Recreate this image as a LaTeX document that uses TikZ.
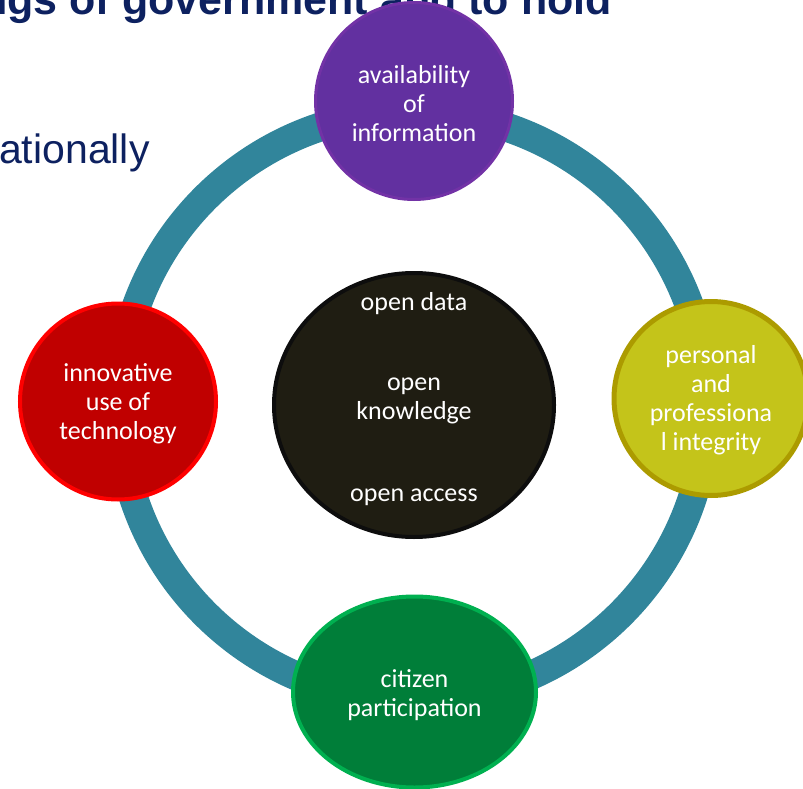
\documentclass[tikz,border=0pt]{standalone}
\usepackage{fontspec}
\setmainfont{Carlito}
\newfontfamily\arialfont{Liberation Sans}
\usetikzlibrary{shapes.geometric}
\definecolor{ringteal}{HTML}{31859B}
\definecolor{navy}{HTML}{0D2160}
\definecolor{purfill}{HTML}{6230A0}
\definecolor{purline}{HTML}{7232A6}
\definecolor{redfill}{HTML}{C00000}
\definecolor{redline}{HTML}{FF0000}
\definecolor{olvfill}{HTML}{C4C41A}
\definecolor{olvline}{HTML}{AC9B00}
\definecolor{grnfill}{HTML}{007E39}
\definecolor{grnline}{HTML}{00B050}
\definecolor{hubfill}{HTML}{1F1D12}
\definecolor{hubline}{HTML}{0D0D0D}
\begin{document}
\begin{tikzpicture}[x=1pt,y=-1pt,
  bubble/.style={circle, inner sep=0pt},
  oval/.style={ellipse, inner sep=0pt},
  bubtext/.style={inner sep=0pt, text=white, align=center,
    font=\fontsize{26}{29}\selectfont},
  ringband/.style={draw=ringteal, line width=29pt},
  bgtext/.style={inner sep=0pt, anchor=base west, text=navy}]
\useasboundingbox (0,0) rectangle (803,789);
\clip (0,0) rectangle (803,789);
% background slide text
\node[bgtext, font=\arialfont\bfseries\fontsize{43}{43}\selectfont] (title) at (-19,15) {ngs of government and to hold};
\node[bgtext, font=\arialfont\fontsize{41}{41}\selectfont] (body) at (-1,164) {ationally};
% ring
\coordinate (ringc) at (413,406);
\draw[ringband] (ringc) circle[radius=294];
% outer bubbles
\node[bubble, fill=purfill, draw=purline, line width=3pt, minimum size=197pt] (avail) at (414,101) {};
\node[bubtext] (availtxt) at ([yshift=-3pt]avail.center) {availability\\of\\information};
\node[bubble, fill=olvfill, draw=olvline, line width=5pt, minimum size=194pt] (integ) at (711,398.5) {};
\node[bubtext] (integtxt) at ([yshift=-2pt]integ.center) {personal\\and\\professiona\\l integrity};
\node[bubble, fill=redfill, draw=redline, line width=4pt, minimum size=196pt] (tech) at (118,401.5) {};
\node[bubtext] (techtxt) at ([yshift=-2pt]tech.center) {innovative\\use of\\technology};
\node[oval, fill=grnfill, draw=grnline, line width=4pt, minimum width=243pt, minimum height=191pt] (citizen) at (414.5,692) {};
\node[bubtext] (citizentxt) at ([yshift=-3pt]citizen.center) {citizen\\participation};
% hub
\node[oval, fill=hubfill, draw=hubline, line width=4pt, minimum width=280pt, minimum height=264pt] (hub) at (414,405) {};
\node[bubtext] (odata) at (414,304) {open data};
\node[bubtext] (oknow) at (414,401) {open\\knowledge};
\node[bubtext] (oaccess) at (414,497) {open access};
\end{tikzpicture}
\end{document}
